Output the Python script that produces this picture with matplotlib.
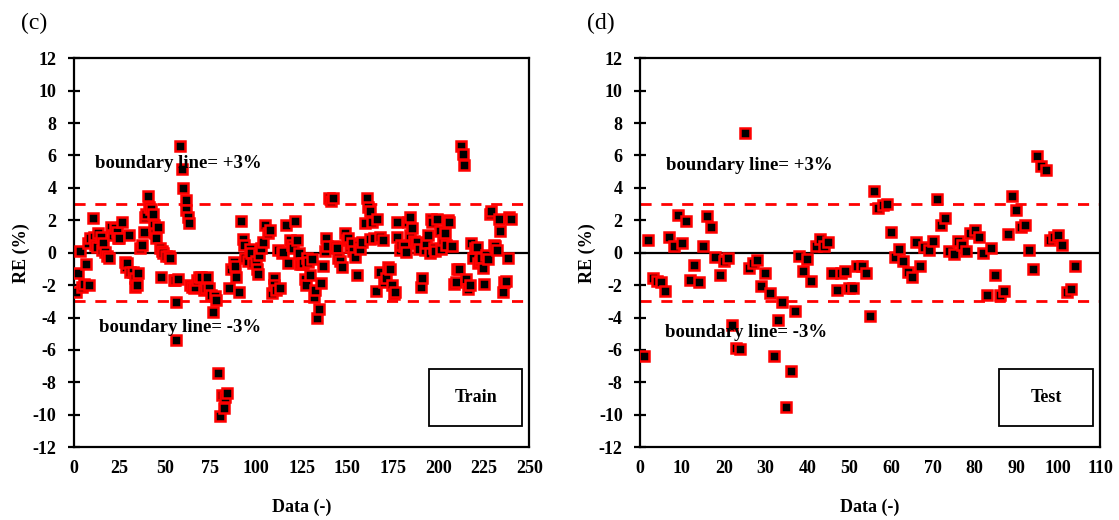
import matplotlib
matplotlib.use("Agg")
import matplotlib.pyplot as plt
from matplotlib.patches import Rectangle

plt.rcParams['font.family'] = ['Liberation Serif', 'DejaVu Serif']
plt.rcParams['axes.unicode_minus'] = False

# (c) training set: sample index and relative error (%)
train_x = [1.3, 2.4, 3.6, 4.6, 5.5, 6.4, 7.8, 8.2, 9, 10.4, 10.9, 11.8, 12.8, 13.5, 14.9,
           15.5, 16.2, 17, 18.2, 19.5, 20.6, 21.5, 22.8, 23.8, 24.5, 25, 26.4, 27.9, 28.5,
           29.2, 30.5, 31, 32.2, 33.4, 33.7, 34.5, 35.2, 36.5, 37.2, 38.3, 38.8, 39.5, 40.5,
           41, 42.2, 43.2, 43.8, 44.5, 45.2, 46.1, 47.4, 47.6, 48.5, 49.2, 50.5, 52, 53,
           54.9, 55.3, 56, 56.3, 57.2, 58.5, 59.5, 60, 61.3, 61.8, 62.5, 63.1, 64, 64.9,
           65.8, 66.7, 67.5, 68.5, 70, 71.2, 72.6, 73.1, 74, 75.2, 76.4, 77.7, 78.2, 79.1,
           80, 81.3, 82.2, 83, 84, 85, 86.2, 87.7, 88.5, 89.2, 90.4, 91.9, 92.8, 93.5, 94.1,
           95.5, 96.8, 97.5, 98.6, 99.8, 100.5, 101, 101.9, 103, 104.1, 105, 106.8, 107.5,
           108.7, 109.6, 110.1, 111.2, 112.3, 113.2, 114.2, 115, 116.5, 117.8, 118.7, 119.8,
           120.5, 121.4, 122.7, 123.8, 124.2, 125.1, 126, 126.8, 127.5, 127.8, 128.8, 129.7,
           130.6, 131.8, 132.5, 133.3, 134.7, 135.5, 136.6, 137.9, 138.4, 139.2, 140.2, 141.3,
           142.4, 143.3, 144.2, 145.1, 146, 147, 148.8, 149.7, 150.5, 151.5, 152.5, 153.3,
           154.3, 155.5, 156.5, 157.2, 158, 159.7, 160.7, 161.5, 162.5, 162.5, 163.4, 164.5,
           165.8, 166.5, 167.9, 168.3, 169.5, 170.5, 171.6, 172.5, 173.5, 174.9, 175.6, 176.3,
           177.4, 177.6, 178.9, 179.8, 181, 182.2, 183.3, 184.4, 184.4, 185.5, 186.5, 187.6,
           188.5, 189.5, 190.4, 191.1, 192.6, 193.5, 194.4, 195.3, 195.8, 196.8, 197.8, 198.5,
           199.5, 200.8, 201.3, 202.6, 203.5, 204.5, 205.3, 206.2, 207.5, 208.5, 209.9, 210.5,
           211.2, 212.6, 213.5, 214.4, 215.4, 216.3, 217.2, 218.1, 219, 220.2, 221.4, 221.7,
           222.7, 223.5, 224.5, 225.4, 226.3, 227.5, 228.2, 229, 230.5, 231.3, 232.3, 233.6,
           234.1, 235.4, 236.2, 237.3, 238.1, 239, 240]
train_re = [-2.45, -1.28, 0.12, -2.1, -1.9, -0.72, 0.58, -2.0, 0.9, 2.12, 0.99, 0.5, 0.37, 1.2, 0.99,
            0.16, 0.6, 0.02, -0.2, -0.31, 1.6, 1.1, 1.5, 1.3, 0.9, 0.88, 1.87, -0.56, -0.9,
            -0.66, 1.09, -1.17, -1.2, -1.54, -2.1, -2.0, -1.28, 0.27, 0.5, 1.3, 2.22, 2.4, 3.5,
            2.84, 2.7, 2.39, 1.71, 1.2, 0.88, 1.56, 0.27, -1.48, 0.1, -0.04, -0.2, -0.2, -0.3,
            -1.69, -1.69, -3.07, -5.39, -1.6, 6.6, 5.14, 4.0, 3.25, 2.63, 2.2, 1.81, -2.0, -2.14,
            -2.2, -2.1, -1.7, -1.48, -1.5, -2.3, -2.2, -1.48, -2.2, -2.6, -3.64, -2.65, -2.9, -7.4,
            -10.1, -8.79, -9.6, -8.9, -8.68, -2.2, -1.0, -0.56, -0.8, -1.48, -2.4, 1.96, 0.85, 0.5, -0.35,
            -0.5, 0.2, 0.0, -0.66, -0.5, -1.0, -1.34, -0.14, 0.3, 0.68, 1.71, 1.23, 1.4,
            -2.51, -1.58, -2.0, -2.3, 0.17, -2.2, -0.04, 0.02, 1.71, -0.66, 0.78, 0.5,
            0.3, 1.96, 0.78, -0.04, -0.72, -0.72, -0.66, -1.6, -2.0, -0.35, -0.6, -1.38,
            -0.39, -2.72, -2.3, -4.05, -3.5, -1.89, -0.8, 0.12, 0.88, 0.4, 3.35, 3.2,
            3.35, 0.4, 0.27, -0.31, -0.5, -0.86, 1.19, 0.78, 0.9, 0.37, 0.6, 0.1,
            -0.25, -1.38, 0.5, 0.2, 0.68, 1.81, 3.4, 2.8, 2.6, 0.82, 1.91, 0.9,
            -2.37, 2.08, 0.99, -1.22, 0.8, -1.8, -1.54, -0.86, -1.0, -2.0, -2.57, -2.4,
            0.99, 1.87, 0.17, 0.5, 0.4, 0.06, 1.9, 2.18, 1.09, 1.5, 0.7, 0.58,
            0.68, 0.2, -2.1, -1.58, 0.17, 0.6, 1.09, -0.04, 2.08, 1.9, 0.3, 0.1,
            2.08, 1.34, 0.2, 0.78, 1.2, 0.5, 2.0, 1.91, 0.41, -1.9, -1.83, -1.0,
            -1.01, 6.6, 6.07, 5.41, -1.62, -2.24, -2.0, 0.58, -0.31, 0.3, 0.37, -0.66,
            -0.5, -0.3, -0.93, -1.96, -0.14, -0.4, 2.4, 2.59, 0.47, 0.4, 0.17, 2.08,
            1.36, -2.45, -1.8, -1.75, -0.31, 2.2, 2.08]

# (d) test set: relative error (%) in sample order
test_re = [-6.4, 0.8, -1.56, -1.73, -1.8, -2.35, 1.0, 0.39, 2.35, 0.6, 1.98, -1.67, -0.74,
           -1.83, 0.43, 2.24, 1.56, -0.29, -1.36, -0.53, -0.33, -4.49, -5.9, -5.93, 7.39,
           -0.95, -0.64, -0.47, -2.08, -1.26, -2.49, -6.36, -4.14, -3.04, -9.5, -7.28, -3.58,
           -0.18, -1.11, -0.39, -1.73, 0.39, 0.86, 0.39, 0.64, -1.26, -2.33, -1.26, -1.15,
           -2.18, -2.18, -0.84, -0.84, -1.26, -3.89, 3.79, 2.76, 2.96, 3.02, 1.27, -0.29,
           0.23, -0.53, -1.21, -1.5, 0.64, -0.84, 0.33, 0.19, 0.74, 3.31, 1.73, 2.14, 0.12,
           -0.06, 0.74, 0.49, 0.08, 1.21, 1.38, 0.94, -0.02, -2.63, 0.29, -1.36, -2.63,
           -2.39, 1.17, 3.52, 2.61, 1.59, 1.73, 0.14, -1.01, 5.99, 5.37, 5.12, 0.8, 0.97,
           1.11, 0.49, -2.43, -2.24, -0.84]
test_x = list(range(1, len(test_re) + 1))

bound = 3
bold = dict(fontweight='bold', fontsize=13)


def draw_panel(ax, x, y, xmax, xstep, tag, label, tx_pos, tx_neg):
    ax.axhline(0, color='black', lw=1.6, zorder=1)
    ax.axhline(bound, color='red', lw=2, ls=(0, (4, 3.5)), zorder=1)
    ax.axhline(-bound, color='red', lw=2, ls=(0, (4, 3.5)), zorder=1)
    ax.plot(x, y, ls='none', marker='s', ms=7.5, mfc='black', mec='red', mew=1.8, zorder=3)

    ax.set_xlim(0, xmax)
    ax.set_ylim(-12, 12)
    ax.set_xticks(range(0, xmax + 1, xstep))
    ax.set_yticks(range(-12, 13, 2))
    ax.tick_params(axis='y', direction='inout', length=9, width=1.6, labelsize=13, pad=8)
    ax.tick_params(axis='x', length=0, labelsize=13, pad=9)
    for lab in ax.get_xticklabels() + ax.get_yticklabels():
        lab.set_fontweight('bold')
    for s in ax.spines.values():
        s.set_linewidth(1.6)

    ax.set_xlabel('Data (-)', **bold, labelpad=16)
    ax.set_ylabel('RE (%)', **bold, labelpad=2)

    ax.text(tx_pos[0], tx_pos[1], 'boundary line= +3%', fontsize=13.5, fontweight='bold', va='center')
    ax.text(tx_neg[0], tx_neg[1], 'boundary line= -3%', fontsize=13.5, fontweight='bold', va='center')

    ax.add_patch(Rectangle((0.78, 0.055), 0.205, 0.145, transform=ax.transAxes,
                           fill=False, lw=1.3, ec='black', zorder=4))
    ax.text(0.8825, 0.1275, label, transform=ax.transAxes, ha='center', va='center',
            fontsize=13, fontweight='bold', zorder=5)
    ax.text(-0.115, 1.09, tag, transform=ax.transAxes, fontsize=17, va='center')


fig = plt.figure(figsize=(11.19, 5.2), dpi=100)
ax1 = fig.add_axes([0.066, 0.14, 0.407, 0.748])
ax2 = fig.add_axes([0.572, 0.14, 0.411, 0.748])

draw_panel(ax1, train_x, train_re, 250, 25, '(c)', 'Train', (11.5, 5.5), (14, -4.6))
draw_panel(ax2, test_x, test_re, 110, 10, '(d)', 'Test', (6.2, 5.4), (6, -4.9))

fig.savefig('out.png', dpi=100)
